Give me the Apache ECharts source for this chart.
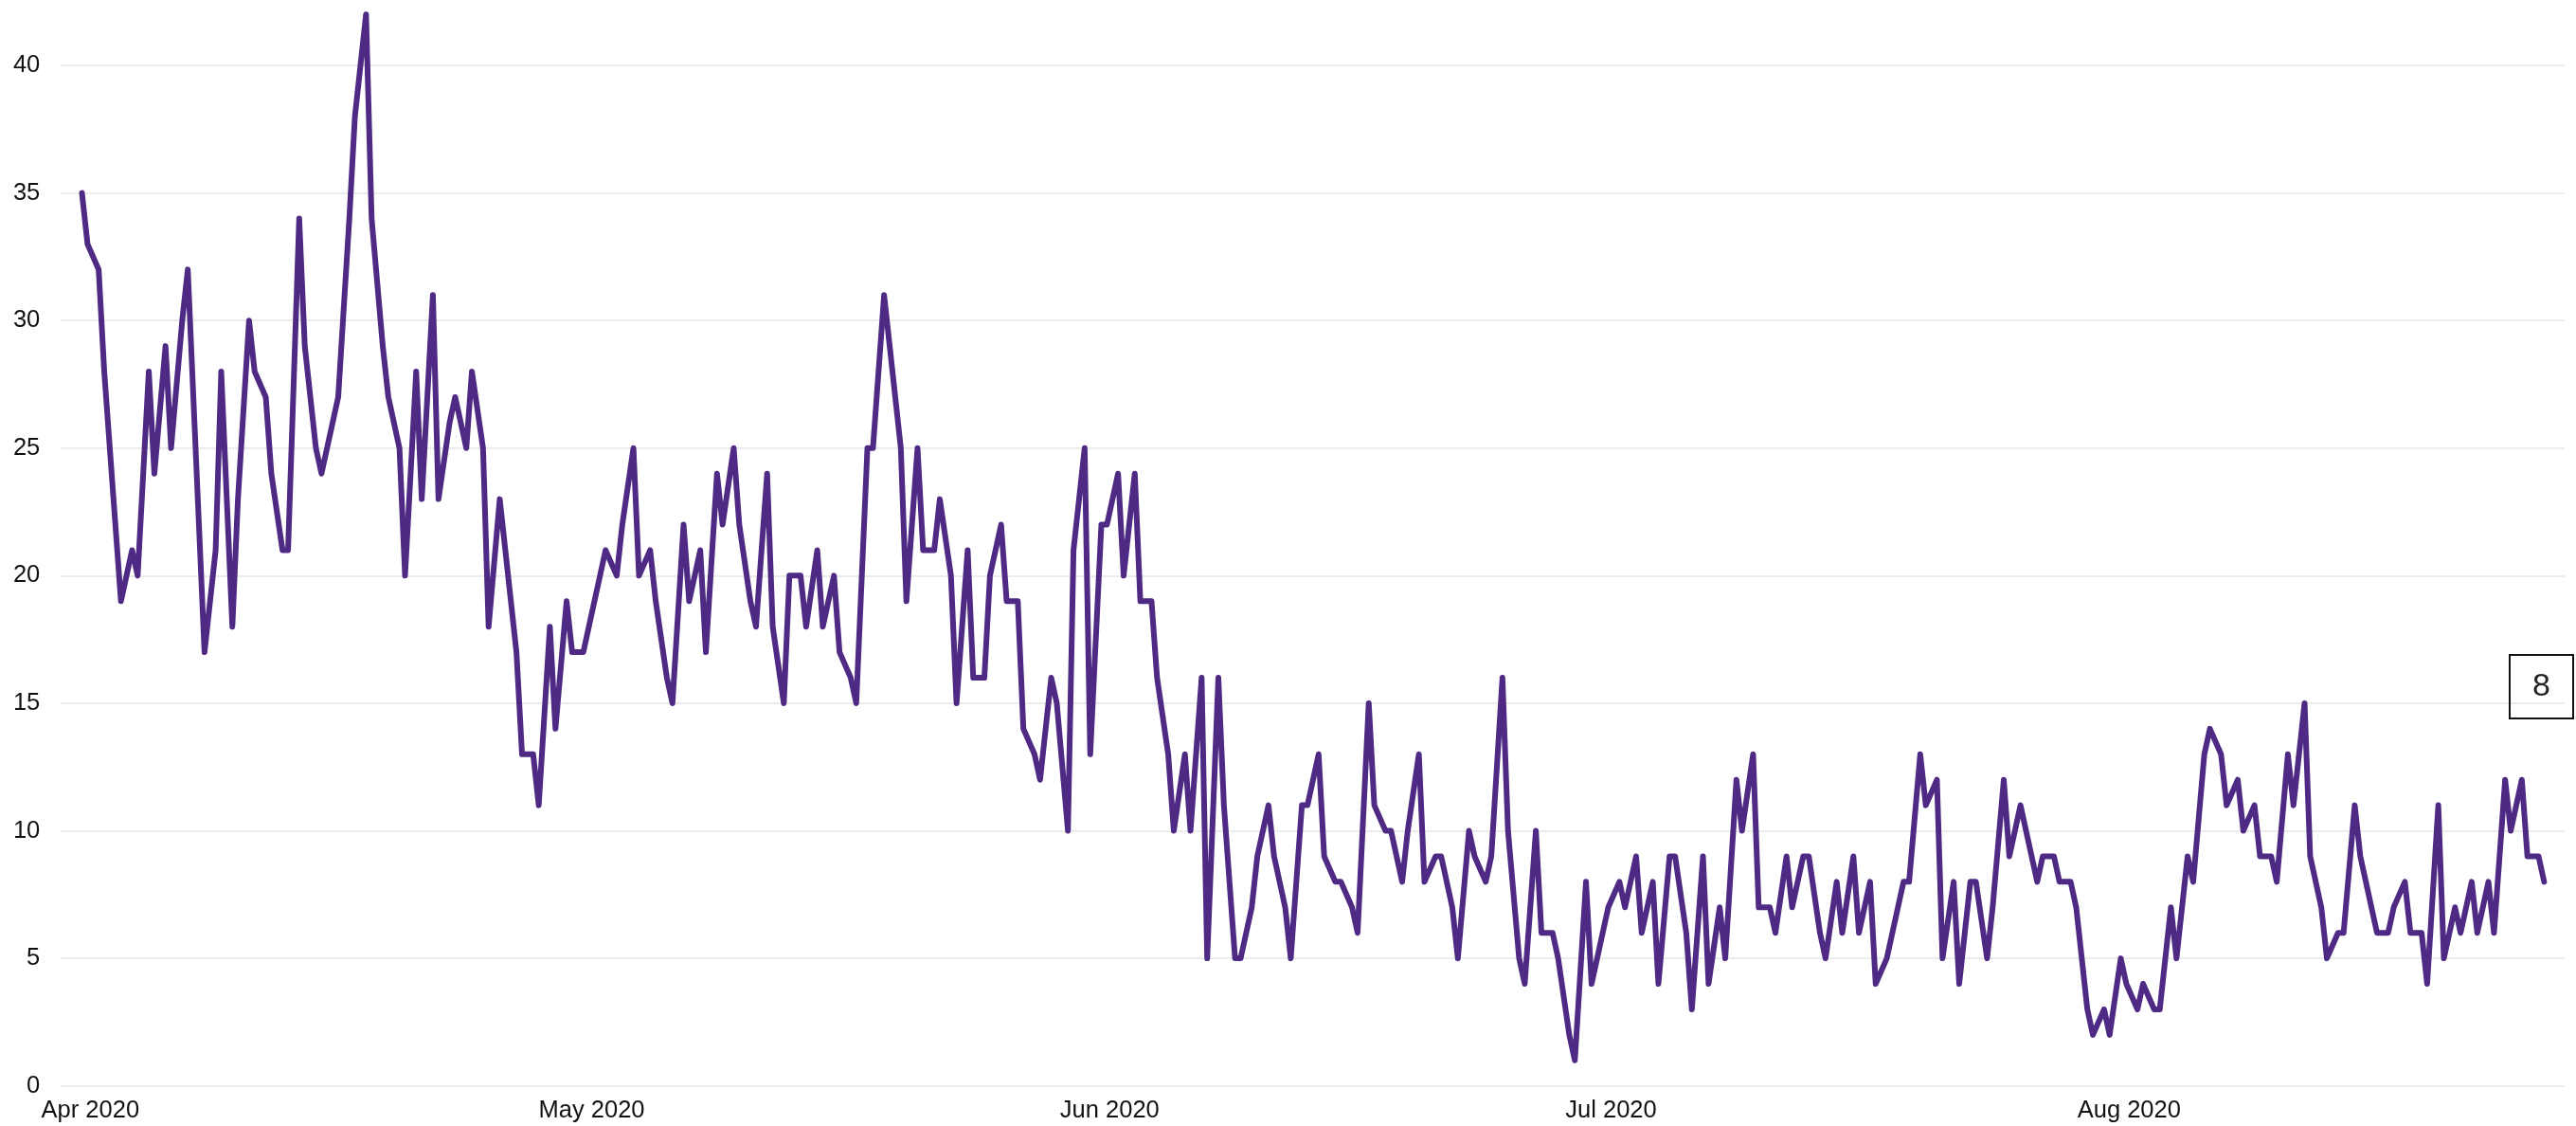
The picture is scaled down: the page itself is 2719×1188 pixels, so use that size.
<!DOCTYPE html>
<html>
<head>
<meta charset="utf-8">
<script src="https://cdn.jsdelivr.net/npm/echarts@6/dist/echarts.min.js"></script>
<style>
  html, body { margin: 0; padding: 0; background: #fff; }
  #chart { width: 2719px; height: 1188px; }
</style>
</head>
<body>
<div id="chart"></div>
<script>
// First day of the series (two readings per day: 12:00 and 20:00)
const startDay = [2020, 2, 31];
// Readings taken at 12:00 each day, from 31 Mar 2020
const noonValues = [
  35, 32, 22, 21, 28, 29, 30, 22, 21, 18,
  30, 27, 21, 34, 25, 26, 34, 42, 29, 25,
  28, 31, 26, 25, 25, 23, 17, 13, 18, 19,
  17, 20, 20, 25, 21, 16, 22, 21, 24, 25,
  19, 24, 15, 20, 21, 20, 16, 25, 31, 25,
  25, 21, 20, 21, 16, 22, 19, 13, 16, 10,
  25, 22, 24, 24, 19, 13, 13, 16, 16, 5,
  7, 11, 7, 11, 13, 8, 7, 15, 10, 8,
  13, 9, 7, 10, 8, 16, 5, 10, 6, 2,
  8, 6, 8, 9, 8, 9, 6, 9, 7, 12,
  13, 7, 9, 9, 6, 8, 9, 8, 5, 8,
  13, 12, 8, 8, 5, 12, 11, 8, 9, 8,
  3, 3, 5, 3, 3, 7, 9, 13, 13, 12,
  11, 9, 13, 15, 7, 6, 11, 7, 6, 8,
  6, 11, 7, 8, 8, 12, 12, 9
];
// Readings taken at 20:00 each day, from 31 Mar 2020
const eveningValues = [
  33, 28, 19, 20, 24, 25, 32, 17, 28, 23,
  28, 24, 21, 29, 24, 27, 38, 34, 27, 20,
  23, 23, 27, 28, 18, 21, 13, 11, 14, 17,
  18, 21, 22, 20, 19, 15, 19, 17, 22, 22,
  18, 18, 20, 18, 18, 17, 15, 25, 29, 19,
  21, 23, 15, 16, 20, 19, 14, 12, 15, 21,
  13, 22, 20, 19, 16, 10, 10, 5, 11, 5,
  9, 9, 5, 11, 9, 8, 6, 11, 10, 10,
  8, 9, 5, 9, 9, 10, 4, 6, 5, 1,
  4, 7, 7, 6, 4, 9, 3, 4, 5, 10,
  7, 6, 7, 9, 5, 6, 6, 4, 6, 8,
  11, 5, 4, 8, 7, 9, 10, 9, 8, 7,
  2, 2, 4, 4, 3, 5, 8, 14, 11, 10,
  9, 8, 11, 9, 5, 6, 9, 6, 7, 6,
  4, 5, 6, 6, 6, 10, 9, 8
];
const readingHours = [12, 20];
const monthLabels = ['Jan 2020','Feb 2020','Mar 2020','Apr 2020','May 2020','Jun 2020',
                     'Jul 2020','Aug 2020','Sep 2020','Oct 2020','Nov 2020','Dec 2020'];
const yTicks = { min: 0, max: 42, interval: 5 };

const DAY = 86400000;
const seriesData = [];
for (let k = 0; k < noonValues.length; k++) {
  seriesData.push([new Date(startDay[0], startDay[1], startDay[2] + k, readingHours[0]).getTime(), noonValues[k]]);
  seriesData.push([new Date(startDay[0], startDay[1], startDay[2] + k, readingHours[1]).getTime(), eveningValues[k]]);
}
const t0 = new Date(startDay[0], startDay[1], startDay[2]).getTime();
const lastValue = eveningValues[eveningValues.length - 1];

const FONT = '"Liberation Sans", Arial, Helvetica, sans-serif';
const chart = echarts.init(document.getElementById('chart'), null, { renderer: 'canvas' });
chart.setOption({
  animation: false,
  backgroundColor: '#ffffff',
  textStyle: { fontFamily: FONT },
  title: {
    text: String(lastValue),
    left: 2649,
    top: 691,
    borderColor: '#111',
    borderWidth: 2,
    padding: [16, 24],
    textStyle: { fontSize: 34, fontWeight: 'normal', color: '#222', fontFamily: FONT, lineHeight: 35 }
  },
  grid: { left: 64.3, right: 12, top: 15.2, bottom: 42.3 },
  xAxis: {
    type: 'time',
    min: t0 - 0.759 * DAY,
    max: t0 + 149.06 * DAY,
    splitNumber: 5,
    axisLine: { show: false },
    axisTick: { show: false },
    splitLine: { show: false },
    minorSplitLine: { show: false },
    axisLabel: {
      fontSize: 25.5,
      color: '#111',
      fontFamily: FONT,
      margin: 13,
      showMinLabel: false,
      showMaxLabel: false,
      formatter: function (val) {
        const d = new Date(val);
        return d.getDate() === 1 ? monthLabels[d.getMonth()] : '';
      }
    }
  },
  yAxis: {
    type: 'value',
    min: yTicks.min,
    max: yTicks.max,
    interval: yTicks.interval,
    axisLine: { show: false },
    axisTick: { show: false },
    axisLabel: {
      fontSize: 25.5,
      color: '#111',
      fontFamily: FONT,
      margin: 22,
      showMaxLabel: false
    },
    splitLine: { show: true, showMaxLine: false, lineStyle: { color: '#ececec', width: 2 } }
  },
  series: [{
    type: 'line',
    data: seriesData,
    showSymbol: false,
    symbol: 'none',
    clip: false,
    lineStyle: { color: '#4e2a84', width: 6, cap: 'round', join: 'round' }
  }]
});
</script>
</body>
</html>
